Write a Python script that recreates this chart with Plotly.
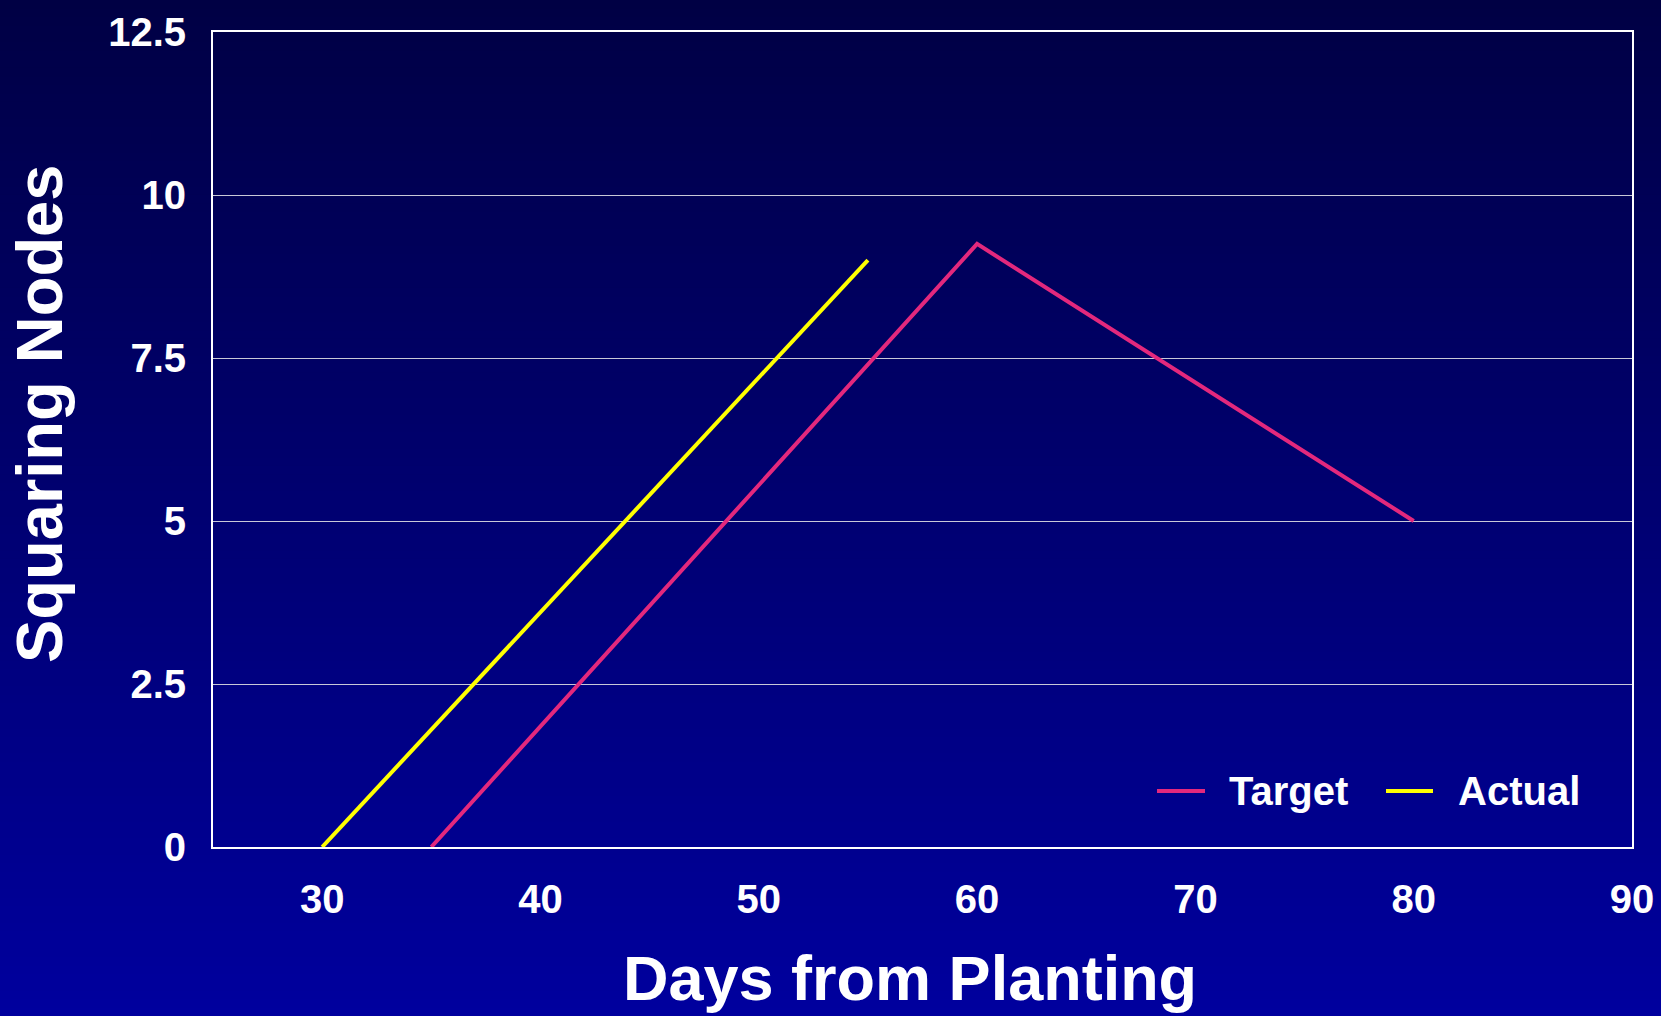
import plotly.graph_objects as go

# Series data
target_days = [35, 60, 80]
target_nodes = [0, 9.25, 5]
actual_days = [30, 55]
actual_nodes = [0, 9]

series_names = ["Target", "Actual"]
series_colors = ["#E3287D", "#FFFF00"]

x_ticks = [30, 40, 50, 60, 70, 80, 90]
y_ticks = [0, 2.5, 5, 7.5, 10, 12.5]
y_tick_text = ["0", "2.5", "5", "7.5", "10", "12.5"]

W, H = 1661, 1016
ML, MR, MT, MB = 213, 29, 32, 169
PW, PH = W - ML - MR, H - MT - MB


def px_x(px):
    return (px - ML) / PW


def px_y(py):
    return (H - MB - py) / PH


FONT = "Liberation Sans, Arial, sans-serif"

fig = go.Figure()
fig.add_trace(go.Scatter(x=target_days, y=target_nodes, mode="lines",
                         name=series_names[0], showlegend=False,
                         line=dict(color=series_colors[0], width=4)))
fig.add_trace(go.Scatter(x=actual_days, y=actual_nodes, mode="lines",
                         name=series_names[1], showlegend=False,
                         line=dict(color=series_colors[1], width=4)))

# Vertical background gradient: dark navy at top, brighter blue at bottom
shapes = []
n_bands = 120
top_rgb = (0, 0, 68)
bot_rgb = (0, 0, 158)
for i in range(n_bands):
    t = (i + 0.5) / n_bands
    c = tuple(int(round(a + (b - a) * t)) for a, b in zip(top_rgb, bot_rgb))
    y0 = i * H / n_bands
    y1 = (i + 1) * H / n_bands + 1
    shapes.append(dict(type="rect", xref="paper", yref="paper", layer="below",
                       x0=px_x(0), x1=px_x(W), y0=px_y(y1), y1=px_y(y0),
                       line=dict(width=0), fillcolor="rgb(%d,%d,%d)" % c))

# Legend samples drawn inside the plot, lower right
legend_line_px = [(1157, 1205), (1386, 1433)]
legend_text_px = [1227, 1456]
legend_y_px = 791
annotations = []
for name, color, (a, b), tx in zip(series_names, series_colors, legend_line_px, legend_text_px):
    shapes.append(dict(type="line", xref="paper", yref="paper",
                       x0=px_x(a), x1=px_x(b), y0=px_y(legend_y_px), y1=px_y(legend_y_px),
                       line=dict(color=color, width=4)))
    annotations.append(dict(text=name, xref="paper", yref="paper", x=px_x(tx), y=px_y(legend_y_px),
                            xanchor="left", yanchor="middle", showarrow=False,
                            font=dict(family=FONT, size=40, color="white", weight="bold")))

# Axis titles
annotations.append(dict(text="Days from Planting", xref="paper", yref="paper",
                        x=px_x(910), y=px_y(978), xanchor="center", yanchor="middle",
                        showarrow=False,
                        font=dict(family=FONT, size=63, color="white", weight="bold")))
annotations.append(dict(text="Squaring Nodes", xref="paper", yref="paper", textangle=-90,
                        x=px_x(40), y=px_y(414), xanchor="center", yanchor="middle",
                        showarrow=False,
                        font=dict(family=FONT, size=65, color="white", weight="bold")))

fig.update_layout(
    width=W, height=H,
    margin=dict(l=ML, r=MR, t=MT, b=MB),
    paper_bgcolor="rgb(0,0,110)",
    plot_bgcolor="rgba(0,0,0,0)",
    shapes=shapes,
    annotations=annotations,
    showlegend=False,
    font=dict(family=FONT, color="white"),
)
fig.update_xaxes(range=[25, 90], tickvals=x_ticks, showgrid=False, zeroline=False,
                 showline=True, linecolor="white", linewidth=2, mirror=True,
                 ticks="", ticklabelstandoff=16, automargin=False,
                 tickfont=dict(family=FONT, size=40, color="white", weight="bold"))
fig.update_yaxes(range=[0, 12.5], tickvals=y_ticks, ticktext=y_tick_text,
                 showgrid=True, gridcolor="#C8C8D8", gridwidth=1, zeroline=False,
                 showline=True, linecolor="white", linewidth=2, mirror=True,
                 ticks="", ticklabelstandoff=17, automargin=False,
                 tickfont=dict(family=FONT, size=40, color="white", weight="bold"))

fig.write_html("out.html")
